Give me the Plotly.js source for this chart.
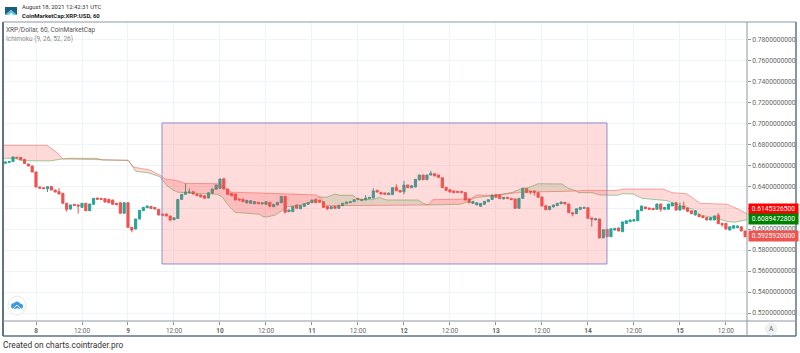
<!DOCTYPE html>
<html><head><meta charset="utf-8">
<script src="https://cdn.plot.ly/plotly-3.0.1.min.js"></script>
<style>html,body{margin:0;padding:0;background:#fff}#c{width:800px;height:353px}</style>
</head><body><div id="c"></div>
<script>
const firstHour = -8;
const opens = [.6626,.6633,.6643,.6683,.6681,.6662,.6619,.6600,.6543,.6400,.6393,.6384,.6405,.6371,.6355,.6340,.6245,.6190,.6235,.6229,.6206,.6245,.6174,.6235,.6295,.6292,.6289,.6283,.6276,.6245,.6250,.6150,.6250,.6016,.6000,.6095,.6174,.6202,.6215,.6206,.6187,.6143,.6143,.6124,.6088,.6101,.6282,.6330,.6343,.6355,.6333,.6324,.6317,.6295,.6340,.6378,.6388,.6479,.6381,.6340,.6333,.6286,.6283,.6248,.6245,.6240,.6254,.6238,.6235,.6254,.6212,.6229,.6250,.6311,.6165,.6165,.6229,.6193,.6215,.6235,.6250,.6283,.6276,.6260,.6216,.6193,.6216,.6197,.6222,.6240,.6250,.6260,.6292,.6270,.6276,.6289,.6295,.6368,.6349,.6343,.6327,.6327,.6397,.6368,.6355,.6419,.6393,.6400,.6467,.6514,.6469,.6514,.6526,.6514,.6488,.6397,.6374,.6362,.6359,.6359,.6346,.6286,.6243,.6229,.6216,.6235,.6260,.6282,.6326,.6324,.6286,.6302,.6292,.6286,.6197,.6292,.6384,.6362,.6362,.6346,.6305,.6222,.6184,.6210,.6222,.6240,.6254,.6238,.6155,.6145,.6187,.6197,.6202,.6105,.6086,.6095,.5915,.5997,.5926,.5990,.6010,.5974,.6052,.6069,.6076,.6078,.6174,.6210,.6200,.6197,.6188,.6238,.6188,.6188,.6219,.6250,.6180,.6219,.6200,.6174,.6133,.6140,.6124,.6110,.6086,.6086,.6130,.6054,.6054,.5990,.6007,.6012,.6021,.5981];
const closes = [.6638,.6643,.6686,.6676,.6662,.6624,.6600,.6543,.6400,.6388,.6384,.6403,.6371,.6352,.6333,.6245,.6187,.6229,.6225,.6219,.6245,.6174,.6238,.6292,.6283,.6283,.6257,.6250,.6235,.6231,.6150,.6250,.6016,.5990,.6095,.6178,.6206,.6219,.6195,.6190,.6133,.6130,.6124,.6086,.6107,.6282,.6330,.6352,.6352,.6333,.6317,.6305,.6292,.6345,.6381,.6419,.6476,.6381,.6330,.6317,.6276,.6276,.6260,.6273,.6269,.6260,.6240,.6250,.6260,.6216,.6235,.6254,.6311,.6159,.6181,.6216,.6197,.6222,.6240,.6254,.6276,.6250,.6254,.6206,.6193,.6212,.6197,.6225,.6245,.6257,.6260,.6279,.6279,.6283,.6295,.6302,.6362,.6352,.6333,.6330,.6343,.6393,.6365,.6352,.6419,.6393,.6412,.6473,.6514,.6469,.6514,.6530,.6505,.6492,.6393,.6368,.6352,.6346,.6349,.6346,.6276,.6250,.6263,.6250,.6243,.6263,.6279,.6324,.6302,.6289,.6302,.6292,.6279,.6197,.6292,.6387,.6349,.6352,.6349,.6302,.6219,.6184,.6215,.6229,.6245,.6257,.6238,.6155,.6143,.6193,.6206,.6206,.6102,.6092,.6098,.5914,.5993,.5926,.6002,.6006,.5981,.6067,.6078,.6086,.6088,.6178,.6219,.6193,.6188,.6184,.6238,.6188,.6206,.6238,.6248,.6180,.6219,.6190,.6168,.6145,.6174,.6117,.6108,.6086,.6108,.6124,.6050,.6041,.6000,.6021,.6031,.6029,.5981,.5926];

const highHours = [6,39,40,86,88,94,96,103,168,169,178];
const highValues = [.6390,.6435,.6387,.6324,.6387,.6426,.6457,.6555,.6250,.6260,.6151];
const lowHours = [3,8,11,25,35,76,96,129,130,140,145,163,179];
const lowValues = [.6352,.6165,.6146,.5968,.6073,.6181,.6330,.6330,.6317,.6121,.6021,.6165,.6021];

const spanAHours = [-9,-5.5,-3.9,3.7,6.3,7,8.9,15.9,17.2,24,25,26,29.2,32.3,34.2,35.7,37,47.2,48.5,50.1,51.9,58.4,59.2,60.3,62.4,64.4,65.5,68.1,68.9,72.3,74.1,75.9,78,79.3,82.7,84,87.7,89,89.7,90.5,91.6,99.7,101,102.3,108,110.6,112.7,114.5,119.2,121,124.4,126.8,128.4,131,137.2,138.8,141.1,141.4,145.1,147.1,151.6,153.1,155.8,158.1,162.3,164.6,166.7,171.4,173.2,177.7,180.5,182.3,185.5];
const spanAValues = [.6673,.6673,.6650,.6648,.6664,.6667,.6673,.6673,.6657,.6654,.6610,.6549,.6536,.6498,.6412,.6371,.6350,.6330,.6308,.6229,.6159,.6140,.6117,.6114,.6133,.6181,.6212,.6222,.6229,.6260,.6305,.6302,.6333,.6321,.6321,.6283,.6279,.6292,.6302,.6286,.6276,.6276,.6245,.6229,.6235,.6235,.6260,.6298,.6317,.6330,.6349,.6388,.6393,.6431,.6429,.6388,.6362,.6346,.6346,.6324,.6321,.6336,.6333,.6292,.6276,.6270,.6238,.6188,.6133,.6102,.6070,.6064,.6089];
const spanBHours = [-9,2.9,5.7,7,16.7,24,25.3,26.6,29.7,32.3,33.7,36.3,38.9,48,50.1,51.1,58.4,68.9,72.8,74.1,74.9,75.9,102.3,103.5,113.2,115,119.2,126.2,138.5,141.1,143.7,151.6,153.1,163.6,166,169.8,173.2,180.3,183.7,185.5];
const spanBValues = [.6797,.6797,.6721,.6667,.6660,.6654,.6593,.6581,.6562,.6514,.6476,.6464,.6435,.6431,.6365,.6350,.6343,.6333,.6324,.6305,.6254,.6222,.6229,.6279,.6286,.6324,.6317,.6349,.6355,.6362,.6369,.6367,.6381,.6381,.6346,.6336,.6245,.6236,.6181,.6145];
const cloudCrossings = [-9,7,24,74.1,102.3,119.2,141.1,185.5];

const boxHours = [32.87,148.97];
const boxPrices = [.5667,.7010];
const yTicks = [.52,.54,.56,.58,.60,.62,.64,.66,.68,.70,.72,.74,.76,.78];
const xTickHours = [0,12,24,36,48,60,72,84,96,108,120,132,144,156,168,180];
const xTickLabels = ['<b>8</b>','12:00','<b>9</b>','12:00','<b>10</b>','12:00','<b>11</b>','12:00','<b>12</b>','12:00','<b>13</b>','12:00','<b>14</b>','12:00','<b>15</b>','12:00'];
const priceTags = [
  {v:.6145326500, text:'0.6145326500', bg:'#ff0000', shift:4.8},
  {v:.6089472800, text:'0.6089472800', bg:'#008000', shift:0.6},
  {v:.5925920000, text:'0.5925920000', bg:'#ef5350', shift:1}
];

const W=800,H=353,L=3,R=747,T=22,B=321;
const px=x=>(x-L)/(R-L), py=y=>(B-y)/(B-T);
const hours=opens.map((_,i)=>firstHour+i);
const highs=opens.map((o,i)=>{const k=highHours.indexOf(hours[i]);return k>=0?highValues[k]:Math.max(o,closes[i])+.0002;});
const lows=opens.map((o,i)=>{const k=lowHours.indexOf(hours[i]);return k>=0?lowValues[k]:Math.min(o,closes[i])-.0002;});

const traces=[];
for(let i=0;i<cloudCrossings.length-1;i++){
  const a=cloudCrossings[i],b=cloudCrossings[i+1];
  const xa=[],ya=[],xb=[],yb=[];
  spanAHours.forEach((h,k)=>{if(h>=a&&h<=b){xa.push(h);ya.push(spanAValues[k]);}});
  spanBHours.forEach((h,k)=>{if(h>=a&&h<=b){xb.push(h);yb.push(spanBValues[k]);}});
  traces.push({type:'scatter',mode:'none',x:xa.concat(xb.reverse()),y:ya.concat(yb.reverse()),
    fill:'toself',fillcolor:i%2==0?'rgba(244,67,54,0.2)':'rgba(76,175,80,0.2)',hoverinfo:'skip'});
}
traces.push({type:'scatter',mode:'lines',x:spanAHours,y:spanAValues,line:{color:'rgba(67,160,71,0.5)',width:1},hoverinfo:'skip'});
traces.push({type:'scatter',mode:'lines',x:spanBHours,y:spanBValues,line:{color:'rgba(244,67,54,0.45)',width:1},hoverinfo:'skip'});
traces.push({type:'candlestick',x:hours,open:opens,high:highs,low:lows,close:closes,whiskerwidth:0,
  increasing:{line:{color:'#26a69a',width:1},fillcolor:'#26a69a'},
  decreasing:{line:{color:'#ef5350',width:1},fillcolor:'#ef5350'},hoverinfo:'skip'});

const frame='#5f7482';
const shapes=[
 {type:'rect',xref:'x',yref:'y',x0:boxHours[0],x1:boxHours[1],y0:boxPrices[0],y1:boxPrices[1],
  fillcolor:'rgba(255,82,82,0.2)',line:{color:'#8f8fd0',width:1},layer:'above'},
 {type:'line',xref:'paper',yref:'paper',x0:px(3),x1:px(3),y0:py(22),y1:py(336),line:{color:frame,width:2}},
 {type:'line',xref:'paper',yref:'paper',x0:px(3),x1:px(796),y0:py(22),y1:py(22),line:{color:'#8a98a3',width:1}},
 {type:'line',xref:'paper',yref:'paper',x0:px(3),x1:px(796),y0:py(336),y1:py(336),line:{color:frame,width:1.5}},
 {type:'line',xref:'paper',yref:'paper',x0:px(796),x1:px(796),y0:py(22),y1:py(336),line:{color:frame,width:1.5}},
 {type:'line',xref:'paper',yref:'paper',x0:px(747),x1:px(747),y0:py(22),y1:py(336),line:{color:'#8f979e',width:1}},
 {type:'line',xref:'paper',yref:'paper',x0:px(3),x1:px(796),y0:py(321),y1:py(321),line:{color:'#8f979e',width:1}},
 {type:'circle',xref:'paper',yref:'paper',x0:px(8),x1:px(26),y0:py(296),y1:py(315),fillcolor:'#fff',line:{color:'#e6eaee',width:1}},
 {type:'circle',xref:'paper',yref:'paper',x0:px(11),x1:px(18),y0:py(303),y1:py(309),fillcolor:'#3d9be9',line:{width:0}},
 {type:'circle',xref:'paper',yref:'paper',x0:px(14),x1:px(20),y0:py(301.5),y1:py(307.5),fillcolor:'#3d9be9',line:{width:0}},
 {type:'circle',xref:'paper',yref:'paper',x0:px(17),x1:px(23),y0:py(303.5),y1:py(309),fillcolor:'#3d9be9',line:{width:0}},
 {type:'path',xref:'paper',yref:'paper',path:`M ${px(13)} ${py(309)} L ${px(17)} ${py(305)} L ${px(21)} ${py(309)}`,line:{color:'#fff',width:1}},
 {type:'circle',xref:'paper',yref:'paper',x0:px(764.5),x1:px(777.5),y0:py(322.5),y1:py(335.5),fillcolor:'#eef0f3',line:{width:0}},
 {type:'path',xref:'paper',yref:'paper',path:`M ${px(5)} ${py(15)} L ${px(5)} ${py(7)} L ${px(17)} ${py(7)} L ${px(17)} ${py(15)} L ${px(11)} ${py(10)} Z`,fillcolor:'#1b5e7e',line:{width:0}},
 {type:'path',xref:'paper',yref:'paper',path:`M ${px(5)} ${py(15)} L ${px(11)} ${py(10)} L ${px(17)} ${py(15)} L ${px(14)} ${py(15)} L ${px(11)} ${py(13)} L ${px(8)} ${py(15)} Z`,fillcolor:'#4fc3e8',line:{width:0}}
];
const txt=(x,y,text,size,color,anchor)=>({xref:'paper',yref:'paper',x:px(x),y:py(y),text,showarrow:false,
  xanchor:anchor||'left',yanchor:'middle',align:'left',borderpad:0,font:{family:'Roboto, Arial, sans-serif',size,color}});
const annotations=[
 txt(20.5,6.7,'August 18, 2021 12:42:31 UTC',5.9,'#333'),
 txt(20.5,15.7,'<b>CoinMarketCap:XRP:USD, 60</b>',6,'#222'),
 txt(5,30,'XRP/Dollar, 60, CoinMarketCap',6.5,'#555'),
 txt(5,39,'Ichimoku (9, 26, 52, 26)',6.5,'#888'),
 txt(2,345,'Created on charts.cointrader.pro',8.4,'#333'),
 txt(771,329,'A',6.5,'#666','center')
];
priceTags.forEach(t=>annotations.push({xref:'paper',yref:'y',x:px(748),y:t.v,yshift:t.shift,text:t.text,showarrow:false,
  xanchor:'left',yanchor:'middle',bgcolor:t.bg,borderpad:0,width:49,height:10,align:'center',
  font:{family:'Roboto, Arial, sans-serif',size:6.7,color:'#fff'}}));

Plotly.newPlot('c',traces,{
 width:W,height:H,showlegend:false,paper_bgcolor:'#fff',plot_bgcolor:'#fff',
 margin:{l:L,r:W-R,t:T,b:H-B,pad:0},boxgap:0.2,
 xaxis:{range:[-8.61,185.5],tickmode:'array',tickvals:xTickHours,ticktext:xTickLabels,ticks:'outside',ticklen:3,tickcolor:'#8f979e',
  gridcolor:'#eff4f9',gridwidth:1,zeroline:false,showline:false,rangeslider:{visible:false},
  tickfont:{family:'Roboto, Arial, sans-serif',size:6.5,color:'#666'},fixedrange:true},
 yaxis:{side:'right',range:[.5124,.7971],tickmode:'array',tickvals:yTicks,tickformat:'.10f',ticks:'outside',ticklen:3,tickcolor:'#8f979e',
  gridcolor:'#eff4f9',gridwidth:1,zeroline:false,showline:false,
  tickfont:{family:'Roboto, Arial, sans-serif',size:6.7,color:'#666'},fixedrange:true},
 shapes,annotations
},{displayModeBar:false,staticPlot:true});
</script></body></html>
